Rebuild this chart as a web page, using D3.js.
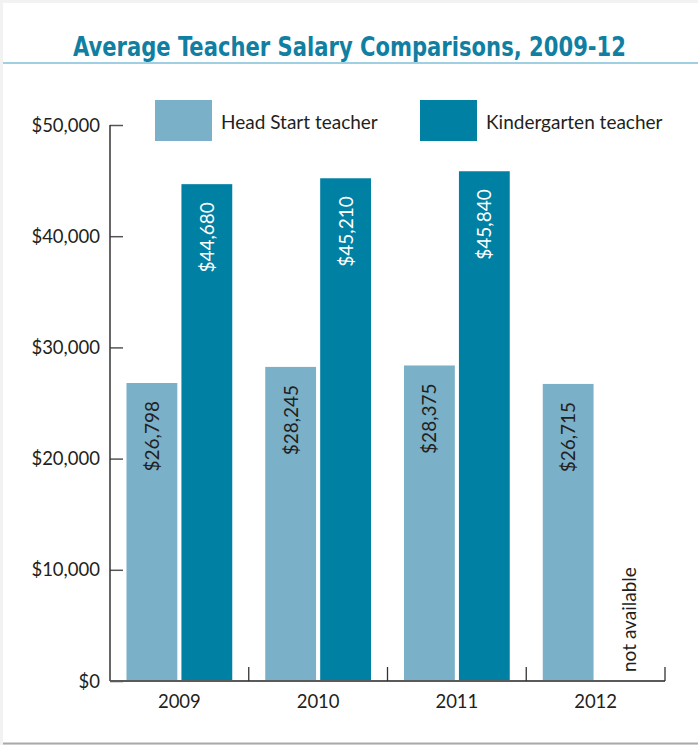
<!DOCTYPE html>
<html>
<head>
<meta charset="utf-8">
<script src="https://cdn.jsdelivr.net/npm/d3@7/dist/d3.min.js"></script>
<style>
  html, body { margin: 0; padding: 0; background: #ffffff; }
  svg { display: block; }
</style>
</head>
<body>
<svg id="chart" width="698" height="745"></svg>
<script>
// ---- data ----
const years = ["2009", "2010", "2011", "2012"];
const seriesNames = ["Head Start teacher", "Kindergarten teacher"];
const headStart = [26798, 28245, 28375, 26715];
const kindergarten = [44680, 45210, 45840, null];
const headStartLabels = ["$26,798", "$28,245", "$28,375", "$26,715"];
const kindergartenLabels = ["$44,680", "$45,210", "$45,840", null];
const yTicks = [0, 10000, 20000, 30000, 40000, 50000];
const yTickLabels = ["$0", "$10,000", "$20,000", "$30,000", "$40,000", "$50,000"];
const titleText = "Average Teacher Salary Comparisons, 2009-12";
const missingText = "not available";

const colors = { "Head Start teacher": "#7bb0c9", "Kindergarten teacher": "#0081a4" };
const textDark = "#231f20";
const bodyFont = "Lato, 'Open Sans', sans-serif";

const svg = d3.select("#chart");
const W = 698, H = 745;

// frame
svg.append("rect").attr("x", 0).attr("y", 0).attr("width", W).attr("height", H).attr("fill", "#f2f2f2");
svg.append("rect").attr("x", 3).attr("y", 3).attr("width", W - 3).attr("height", H - 5).attr("fill", "#ffffff");
svg.append("line").attr("x1", 3).attr("x2", W).attr("y1", 743.5).attr("y2", 743.5)
  .attr("stroke", "#a9a9a9").attr("stroke-width", 2);
svg.append("line").attr("x1", 3).attr("x2", W).attr("y1", 63).attr("y2", 63)
  .attr("stroke", "#7fbfd6").attr("stroke-width", 1.5);

// title
svg.append("text")
  .attr("x", 73).attr("y", 56)
  .attr("text-anchor", "start")
  .attr("font-family", "'DejaVu Sans Condensed', 'DejaVu Sans', sans-serif")
  .attr("font-stretch", "condensed")
  .attr("font-weight", "bold")
  .attr("font-size", 26)
  .attr("textLength", 553)
  .attr("lengthAdjust", "spacingAndGlyphs")
  .attr("fill", "#117fa2")
  .text(titleText);

// scales
const y = d3.scaleLinear().domain([0, 50000]).range([681, 125]);
const x0 = d3.scaleBand().domain(years).range([110, 665]).padding(0);
const bw = x0.bandwidth();
const x1 = d3.scaleBand().domain(seriesNames).range([16.5, bw - 16.5]).paddingInner(0.075);

// y axis
const yAxis = d3.axisRight(y).tickValues(yTicks).tickSize(13).tickFormat(() => "");
const gy = svg.append("g").attr("transform", "translate(110,0)").call(yAxis);
gy.select(".domain").remove();
gy.selectAll(".tick line").attr("stroke", "#555").attr("stroke-width", 1.5);
svg.append("line").attr("x1", 110).attr("x2", 110).attr("y1", y(50000)).attr("y2", y(0))
  .attr("stroke", "#333").attr("stroke-width", 1.5);
svg.append("g").selectAll("text").data(yTicks).join("text")
  .attr("x", 100).attr("y", d => y(d) + 6.5)
  .attr("text-anchor", "end")
  .attr("font-family", bodyFont).attr("font-size", 18.5).attr("fill", textDark)
  .text((d, i) => yTickLabels[i]);

// bars
const rows = years.map((yr, i) => ({ year: yr, values: [
  { key: seriesNames[0], value: headStart[i], label: headStartLabels[i] },
  { key: seriesNames[1], value: kindergarten[i], label: kindergartenLabels[i] }
]}));

const groups = svg.append("g").selectAll("g").data(rows).join("g")
  .attr("transform", d => `translate(${x0(d.year)},0)`);

groups.selectAll("rect").data(d => d.values.filter(v => v.value != null)).join("rect")
  .attr("x", d => x1(d.key)).attr("width", x1.bandwidth())
  .attr("y", d => y(d.value)).attr("height", d => y(0) - y(d.value))
  .attr("fill", d => colors[d.key]);

groups.selectAll("text.val").data(d => d.values.filter(v => v.value != null)).join("text")
  .attr("class", "val")
  .attr("transform", d => `translate(${x1(d.key) + x1.bandwidth() / 2 + 7},${y(d.value) + 18}) rotate(-90)`)
  .attr("text-anchor", "end")
  .attr("font-family", bodyFont).attr("font-size", 19)
  .attr("fill", d => d.key === seriesNames[1] ? "#ffffff" : textDark)
  .text(d => d.label);

groups.selectAll("text.na").data(d => d.values.filter(v => v.value == null)).join("text")
  .attr("class", "na")
  .attr("transform", d => `translate(${x1(d.key) + x1.bandwidth() / 2 + 12.5},${y(0) - 9}) rotate(-90)`)
  .attr("text-anchor", "start")
  .attr("font-family", bodyFont).attr("font-size", 19)
  .attr("fill", textDark)
  .text(missingText);

// x axis
svg.append("line").attr("x1", 110).attr("x2", 665).attr("y1", 681).attr("y2", 681)
  .attr("stroke", "#5a5a5a").attr("stroke-width", 2);
const seps = years.map(yr => x0(yr) + bw);
svg.append("g").selectAll("line").data(seps).join("line")
  .attr("x1", d => d).attr("x2", d => d).attr("y1", 667).attr("y2", 681)
  .attr("stroke", "#333").attr("stroke-width", 1.3);
svg.append("g").selectAll("text").data(years).join("text")
  .attr("x", d => x0(d) + bw / 2).attr("y", 708)
  .attr("text-anchor", "middle")
  .attr("font-family", bodyFont).attr("font-size", 18.5).attr("fill", textDark)
  .text(d => d);

// legend
const legendX = [155, 420];
const lg = svg.append("g").selectAll("g").data(seriesNames).join("g")
  .attr("transform", (d, i) => `translate(${legendX[i]},100)`);
lg.append("rect").attr("width", 57).attr("height", 41).attr("fill", d => colors[d]);
lg.append("text").attr("x", 66).attr("y", 29)
  .attr("font-family", bodyFont).attr("font-size", 19).attr("fill", textDark)
  .text(d => d);
</script>
</body>
</html>
